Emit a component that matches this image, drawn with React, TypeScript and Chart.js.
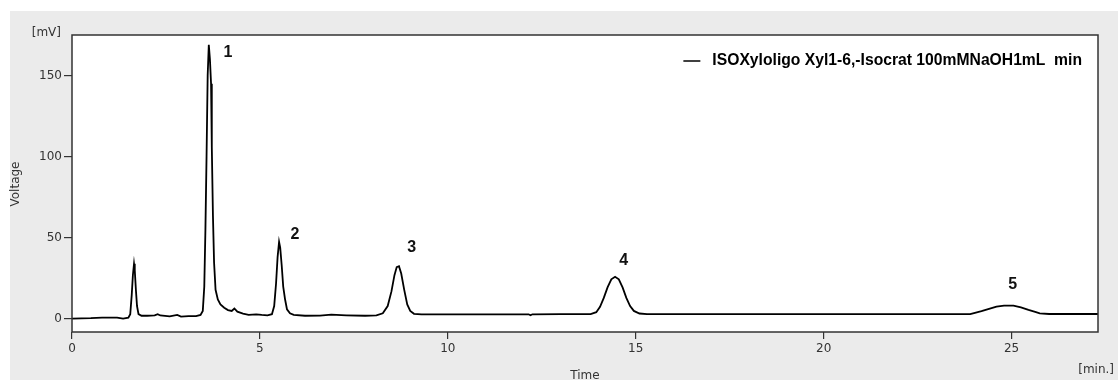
import React, { useEffect, useRef } from "react";
import { Chart, registerables } from "chart.js";

Chart.register(...registerables);

// Retention time [min] and detector signal [mV]
const timeMin: number[] = [
  0.0, 0.5, 0.8, 1.0, 1.2, 1.36, 1.5, 1.55, 1.59, 1.62, 1.65, 1.67, 1.7, 1.73, 1.77, 1.85,
  2.0, 2.2, 2.28, 2.35, 2.6, 2.8, 2.9, 3.1, 3.3, 3.42, 3.48, 3.52, 3.55, 3.58, 3.61, 3.64,
  3.67, 3.7, 3.72, 3.75, 3.78, 3.82, 3.88, 3.95, 4.05, 4.15, 4.25, 4.32, 4.4, 4.55, 4.7,
  4.9, 5.05, 5.2, 5.32, 5.38, 5.43, 5.47, 5.51, 5.54, 5.58, 5.62, 5.67, 5.72, 5.8, 5.9,
  6.2, 6.6, 6.9, 7.3, 7.8, 8.1, 8.27, 8.4, 8.5, 8.58, 8.64, 8.7, 8.76, 8.84, 8.92, 9.0,
  9.1, 9.3, 10.0, 11.0, 12.15, 12.2, 12.25, 13.0, 13.8, 13.95, 14.05, 14.15, 14.25, 14.35,
  14.45, 14.55, 14.65, 14.75, 14.85, 14.95, 15.1, 15.3, 17.0, 20.0, 23.0, 23.9, 24.0, 24.2,
  24.4, 24.6, 24.8, 25.05, 25.25, 25.45, 25.65, 25.75, 26.0, 27.3,
];
const voltageMv: number[] = [
  0.3, 0.5, 0.8, 0.8, 0.9, 0.3, 0.8, 3, 15, 27, 34, 30, 18, 8, 3, 2,
  2, 2.2, 3, 2.2, 1.6, 2.5, 1.5, 1.8, 1.8, 2.5, 5, 20, 55, 100, 150, 169,
  160, 145, 106, 64, 35, 18, 12, 9, 7, 5.5, 5, 6.5, 4.5, 3.3, 2.6,
  2.8, 2.5, 2.3, 3, 8, 22, 38, 47.5, 44, 33, 20, 12, 6, 3.5, 2.6,
  2.0, 2.1, 2.7, 2.3, 2.0, 2.3, 3.5, 8, 17, 27, 32, 32.5, 28, 18, 9, 5,
  3.2, 2.8, 2.8, 2.9, 2.9, 2.3, 2.9, 3.0, 3.0, 4.2, 7.5, 13, 19.5, 24.5,
  26, 24.5, 19.5, 13, 8, 5, 3.4, 3.0, 3.0, 3.0, 3.0, 3.0, 3.6, 4.8,
  6.2, 7.6, 8.2, 8.2, 7.2, 5.6, 4.2, 3.5, 3.1, 3.1,
];

// Peak number labels (anchored in data coordinates)
const peakNames: string[] = ["1", "2", "3", "4", "5"];
const peakLabelTime: number[] = [4.15, 5.93, 9.04, 14.68, 25.03];
const peakLabelMv: number[] = [164, 52, 44, 36, 21];

const xTicks: number[] = [0, 5, 10, 15, 20, 25];
const yTicks: number[] = [0, 50, 100, 150];

const seriesName = "ISOXyloligo Xyl1-6,-Isocrat 100mMNaOH1mL  min";
const yAxisName = "Voltage";
const yUnit = "[mV]";
const xAxisName = "Time";
const xUnit = "[min.]";

const TICK_FONT = { family: "'DejaVu Sans', sans-serif", size: 12 };
const INK = "#333333";

const decorPlugin = {
  id: "decor",
  beforeDraw(chart: any) {
    const { ctx, chartArea: a } = chart;
    ctx.save();
    ctx.fillStyle = "#ffffff";
    ctx.fillRect(0, 0, chart.width, chart.height);
    ctx.fillStyle = "#ebebeb";
    ctx.fillRect(10, 11, chart.width - 10, chart.height - 11);
    ctx.fillStyle = "#ffffff";
    ctx.fillRect(a.left, a.top, a.right - a.left, a.bottom - a.top);
    ctx.restore();
  },
  afterDraw(chart: any) {
    const { ctx, chartArea: a, scales } = chart;
    ctx.save();
    // frame
    ctx.strokeStyle = INK;
    ctx.lineWidth = 1.5;
    ctx.strokeRect(a.left, a.top, a.right - a.left, a.bottom - a.top);

    // legend inside plot
    ctx.font = "bold 15.7px 'Liberation Sans', Arial, sans-serif";
    ctx.textBaseline = "middle";
    ctx.textAlign = "left";
    ctx.fillStyle = "#000";
    const tw = ctx.measureText(seriesName).width;
    const textRight = a.right - 16;
    const tx = textRight - tw;
    const ly = a.top + 26;
    ctx.strokeStyle = "#000";
    ctx.lineWidth = 1.5;
    ctx.beginPath();
    ctx.moveTo(tx - 29, ly);
    ctx.lineTo(tx - 12, ly);
    ctx.stroke();
    ctx.fillText(seriesName, tx, ly);

    // peak labels
    ctx.font = "bold 16px 'Liberation Sans', Arial, sans-serif";
    ctx.textAlign = "center";
    ctx.fillStyle = "#111";
    peakNames.forEach((n, i) => {
      const px = scales.x.getPixelForValue(peakLabelTime[i]);
      const py = scales.y.getPixelForValue(peakLabelMv[i]);
      ctx.fillText(n, px, py);
    });

    // axis texts
    ctx.font = "12px 'DejaVu Sans', sans-serif";
    ctx.fillStyle = INK;
    ctx.textAlign = "right";
    ctx.fillText(yUnit, a.left - 11, a.top - 2);
    ctx.fillText(xUnit, chart.width - 4, 370);
    ctx.textAlign = "center";
    ctx.fillText(xAxisName, (a.left + a.right) / 2 + 0, 376);
    ctx.save();
    ctx.translate(16, 184);
    ctx.rotate(-Math.PI / 2);
    ctx.fillText(yAxisName, 0, 0);
    ctx.restore();
    ctx.restore();
  },
};

export default function App() {
  const ref = useRef<HTMLCanvasElement | null>(null);

  useEffect(() => {
    if (!ref.current) return;
    const points = timeMin.map((t, i) => ({ x: t, y: voltageMv[i] }));
    const chart = new Chart(ref.current, {
      type: "line",
      data: {
        datasets: [
          {
            label: seriesName,
            data: points,
            borderColor: "#000000",
            borderWidth: 1.8,
            pointRadius: 0,
            tension: 0,
            fill: false,
          },
        ],
      },
      options: {
        animation: false,
        responsive: false,
        maintainAspectRatio: false,
        layout: { padding: { top: 35, right: 20, left: 0, bottom: 0 } },
        plugins: {
          legend: { display: false },
          tooltip: { enabled: false },
        },
        scales: {
          x: {
            type: "linear",
            min: 0,
            max: 27.3,
            afterBuildTicks: (s: any) => {
              s.ticks = xTicks.map((v) => ({ value: v }));
            },
            afterFit: (s: any) => {
              s.height = 48;
            },
            grid: {
              display: true,
              drawOnChartArea: false,
              drawTicks: true,
              tickLength: 7,
              color: INK,
              lineWidth: 1.2,
            },
            border: { display: false },
            ticks: {
              color: INK,
              font: TICK_FONT,
              padding: 3,
              maxRotation: 0,
              callback: (v: any) => String(v),
            },
          },
          y: {
            type: "linear",
            min: -8,
            max: 175,
            afterBuildTicks: (s: any) => {
              s.ticks = yTicks.map((v) => ({ value: v }));
            },
            afterFit: (s: any) => {
              s.width = 72;
            },
            grid: {
              display: true,
              drawOnChartArea: false,
              drawTicks: true,
              tickLength: 8,
              color: INK,
              lineWidth: 1.2,
            },
            border: { display: false },
            ticks: {
              color: INK,
              font: TICK_FONT,
              padding: 2,
              callback: (v: any) => String(v),
            },
          },
        },
      },
      plugins: [decorPlugin],
    });
    return () => chart.destroy();
  }, []);

  return (
    <div style={{ position: "fixed", left: 0, top: 0, width: 1118, height: 380 }}>
      <canvas ref={ref} width={1118} height={380} style={{ display: "block" }} />
    </div>
  );
}
